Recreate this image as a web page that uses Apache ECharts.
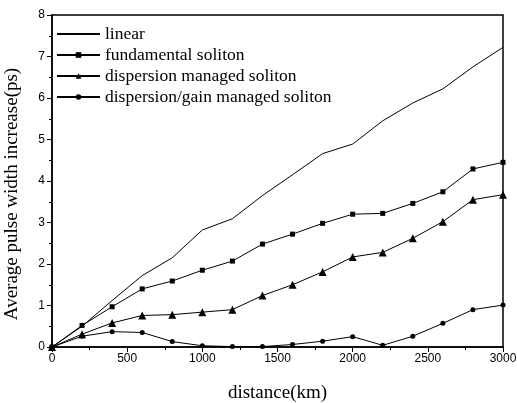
<!DOCTYPE html>
<html><head><meta charset="utf-8">
<script src="https://cdn.jsdelivr.net/npm/echarts@6/dist/echarts.min.js"></script>
<style>html,body{margin:0;padding:0;background:#fff}#c{width:517px;height:403px}</style>
</head><body><div id="c"></div>
<script>
const distances = [0,200,400,600,800,1000,1200,1400,1600,1800,2000,2200,2400,2600,2800,3000];
const linear = [0,0.5,1.12,1.72,2.15,2.82,3.09,3.65,4.15,4.66,4.89,5.45,5.88,6.22,6.75,7.22];
const fundamental = [0,0.52,0.97,1.4,1.59,1.85,2.07,2.48,2.72,2.98,3.2,3.22,3.46,3.74,4.29,4.45];
const dispManaged = [0,0.31,0.58,0.76,0.78,0.84,0.9,1.24,1.5,1.81,2.17,2.28,2.62,3.02,3.55,3.67];
const dispGain = [0,0.26,0.37,0.35,0.13,0.03,0.01,0.01,0.06,0.14,0.25,0.04,0.26,0.57,0.9,1.01];
const seriesNames = ['linear','fundamental soliton','dispersion managed soliton','dispersion/gain managed soliton'];

const pairs = arr => distances.map((d,i)=>[d,arr[i]]);
const chart = echarts.init(document.getElementById('c'));
const serif = '"Liberation Serif", "DejaVu Serif", serif';
const sans = '"Liberation Sans", Arial, sans-serif';
const mk = (name, data, symbol, size, showSym) => ({
  name, type:'line', data: pairs(data), symbol, symbolSize:size, showSymbol:showSym,
  lineStyle:{color:'#000', width:1}, itemStyle:{color:'#000'}, animation:false
});
chart.setOption({
  animation:false,
  grid:{left:52, right:14, top:15, bottom:56, show:true, borderColor:'#000', borderWidth:1.5, containLabel:false, outerBoundsMode:'none'},
  legend:{
    orient:'vertical', left:51, top:20, itemWidth:43, itemHeight:7, itemGap:3,
    textStyle:{fontFamily:serif, fontSize:17.5, color:'#000'},
    data: [
      {name: seriesNames[0], itemStyle:{color:'rgba(0,0,0,0)', borderWidth:0}},
      seriesNames[1], seriesNames[2], seriesNames[3]
    ]
  },
  xAxis:{
    type:'value', min:0, max:3000, interval:500,
    name:'distance(km)', nameLocation:'middle', nameGap:37,
    nameTextStyle:{fontFamily:serif, fontSize:19, color:'#000'},
    axisLine:{lineStyle:{color:'#000', width:1.5}},
    axisTick:{inside:false, length:5, lineStyle:{color:'#000'}},
    minorTick:{show:true, splitNumber:2, length:3, lineStyle:{color:'#000'}},
    splitLine:{show:false},
    axisLabel:{fontFamily:sans, fontSize:12, color:'#000', margin:6, formatter: v => String(v)}
  },
  yAxis:{
    type:'value', min:0, max:8, interval:1,
    name:'Average pulse width increase(ps)', nameLocation:'middle', nameGap:30,
    nameTextStyle:{fontFamily:serif, fontSize:19, color:'#000', padding:[0,26,0,0]},
    axisLine:{show:true, lineStyle:{color:'#000', width:1.5}},
    axisTick:{show:true, inside:false, length:5, lineStyle:{color:'#000'}},
    minorTick:{show:true, splitNumber:2, length:3, lineStyle:{color:'#000'}},
    splitLine:{show:false},
    axisLabel:{fontFamily:sans, fontSize:12, color:'#000', margin:7}
  },
  series:[
    mk(seriesNames[0], linear, 'circle', 2, false),
    mk(seriesNames[1], fundamental, 'rect', 5, true),
    mk(seriesNames[2], dispManaged, 'triangle', 8, true),
    mk(seriesNames[3], dispGain, 'circle', 5, true)
  ]
});
</script></body></html>
